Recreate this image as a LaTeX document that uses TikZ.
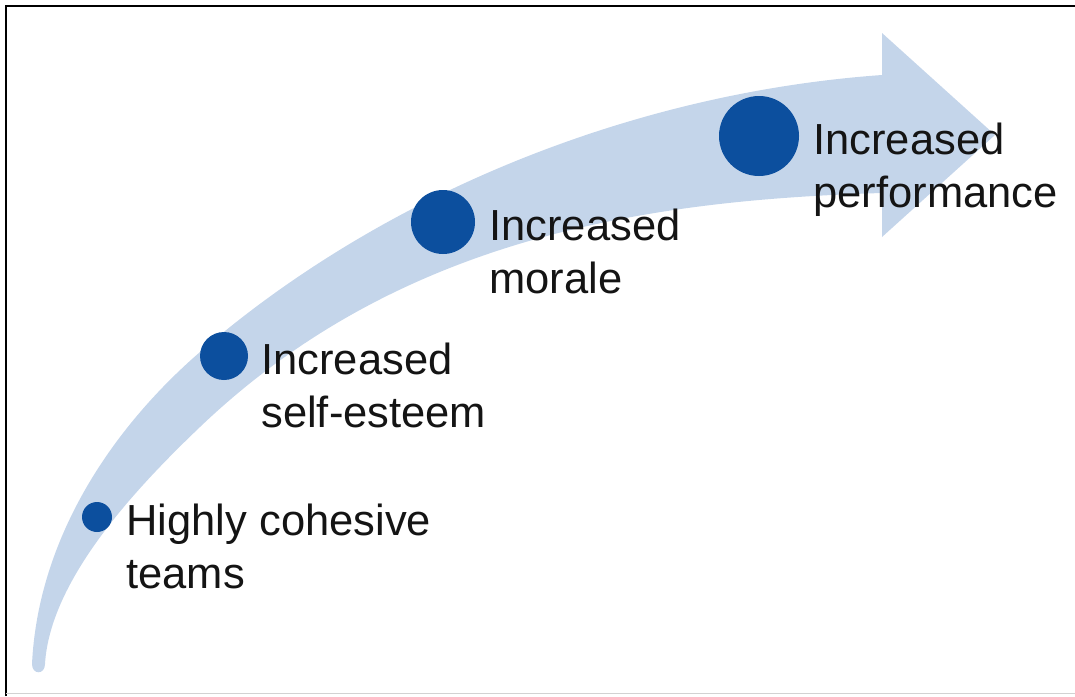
\documentclass[tikz,border=0pt]{standalone}
\usepackage{fontspec}
\setmainfont{Liberation Sans}
\usepackage{xcolor}
\usetikzlibrary{positioning}
\definecolor{bandblue}{RGB}{196,213,234}
\definecolor{dotblue}{RGB}{12,79,158}
\definecolor{inkgray}{RGB}{20,20,20}
\tikzstyle{stage} = [circle, fill=dotblue, draw=none, inner sep=0pt]
\tikzstyle{stagetext} = [anchor=north west, yshift=13pt, inner sep=0pt, align=left, text=inkgray, font=\fontsize{43.5}{53}\selectfont]
\tikzstyle{frame} = [line width=2pt, draw=black]

\begin{document}
\begin{tikzpicture}[x=1pt, y=-1pt]
	\useasboundingbox (0,0) rectangle (1075,696);

	% frame
	\draw [frame] (6,696) -- (6,6) -- (1075,6);
	\draw [gray!35, line width=1pt] (6,693) -- (1075,693);

	% curved arrow
	\fill [bandblue] (32,664) .. controls (38,540) and (110,430) .. (200,352)
		.. controls (380,196) and (630,93) .. (882,75)
		-- (882,33) -- (995,135) -- (882,237) -- (882,193)
		.. controls (650,200) and (400,236) .. (200,427)
		.. controls (135,489) and (50,580) .. (45,664)
		.. controls (45,675) and (32,675) .. (32,664) -- cycle;

	\node (dot1) [stage, minimum size=30pt] at (97,517) {};
	\node (dot2) [stage, minimum size=48pt] at (224,356) {};
	\node (dot3) [stage, minimum size=64pt] at (443,222) {};
	\node (dot4) [stage, minimum size=80pt] at (759,136) {};

	\node (txt1) [right=14pt of dot1.east, stagetext] {Highly cohesive\\teams};
	\node (txt2) [right=13pt of dot2.east, stagetext] {Increased\\self-esteem};
	\node (txt3) [right=14pt of dot3.east, stagetext] {Increased\\morale};
	\node (txt4) [right=14pt of dot4.east, stagetext] {Increased\\performance};
\end{tikzpicture}
\end{document}
